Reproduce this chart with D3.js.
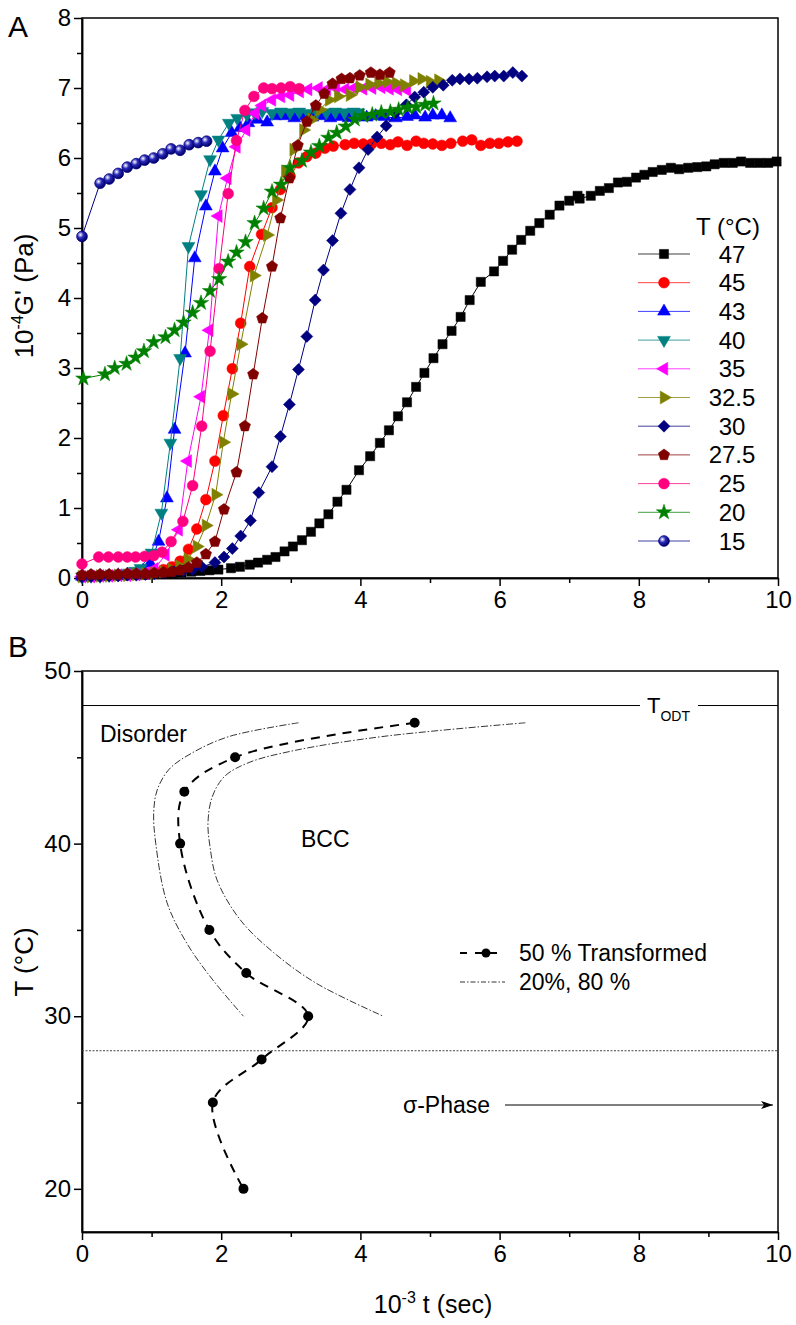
<!DOCTYPE html>
<html>
<head>
<meta charset="utf-8">
<script src="https://cdn.jsdelivr.net/npm/d3@7"></script>
<style>
body { margin: 0; background: #fff; }
svg text { font-family: "Liberation Sans", Arial, sans-serif; fill: #000; }
</style>
</head>
<body>
<svg id="fig" width="796" height="1325"></svg>
<script>
// PANEL A DATA : [10^-3 t (sec), 10^-4 G' (Pa)]
const s47 = [[0,0.02],[0.13,0.02],[0.26,0.03],[0.39,0.03],[0.52,0.04],[0.65,0.04],[0.78,0.05],[0.91,0.05],[1.04,0.06],[1.17,0.07],[1.30,0.07],[1.43,0.08],[1.57,0.09],[1.70,0.10],[1.83,0.11],[1.96,0.12],[2.14,0.14],[2.27,0.16],[2.41,0.19],[2.53,0.22],[2.66,0.26],[2.78,0.30],[2.91,0.38],[3.03,0.45],[3.16,0.54],[3.29,0.66],[3.41,0.78],[3.54,0.91],[3.67,1.09],[3.80,1.26],[3.98,1.54],[4.14,1.74],[4.28,1.93],[4.41,2.11],[4.54,2.31],[4.67,2.51],[4.80,2.73],[4.92,2.93],[5.05,3.14],[5.18,3.34],[5.31,3.53],[5.44,3.73],[5.57,3.97],[5.73,4.23],[5.92,4.38],[6.05,4.53],[6.18,4.69],[6.31,4.83],[6.44,4.96],[6.57,5.07],[6.72,5.19],[6.86,5.32],[7.00,5.39],[7.12,5.46],[7.15,5.42],[7.31,5.46],[7.44,5.53],[7.57,5.57],[7.70,5.65],[7.83,5.66],[7.96,5.72],[8.08,5.76],[8.20,5.80],[8.33,5.83],[8.46,5.86],[8.58,5.84],[8.71,5.86],[8.84,5.87],[8.97,5.88],[9.09,5.91],[9.22,5.93],[9.35,5.93],[9.47,5.95],[9.60,5.93],[9.73,5.93],[9.86,5.93],[9.98,5.95]];
const s45 = [[0,0.02],[0.13,0.03],[0.26,0.03],[0.39,0.04],[0.52,0.04],[0.65,0.05],[0.78,0.06],[0.91,0.07],[1.04,0.09],[1.17,0.12],[1.29,0.16],[1.41,0.24],[1.53,0.41],[1.65,0.70],[1.78,1.12],[1.91,1.67],[2.03,2.32],[2.16,2.99],[2.28,3.64],[2.41,4.45],[2.58,4.91],[2.73,5.29],[2.85,5.55],[2.99,5.74],[3.11,5.93],[3.23,6.02],[3.36,6.07],[3.49,6.14],[3.61,6.17],[3.78,6.19],[3.91,6.21],[4.04,6.20],[4.16,6.20],[4.30,6.21],[4.43,6.19],[4.54,6.23],[4.67,6.18],[4.80,6.24],[4.91,6.21],[5.04,6.20],[5.17,6.18],[5.30,6.21],[5.47,6.24],[5.60,6.26],[5.73,6.18],[5.86,6.21],[5.99,6.21],[6.12,6.23],[6.25,6.24]];
const s43 = [[0,0.02],[0.13,0.02],[0.26,0.03],[0.39,0.03],[0.52,0.04],[0.65,0.05],[0.78,0.07],[0.88,0.11],[0.98,0.21],[1.10,0.52],[1.22,1.14],[1.33,2.12],[1.48,3.21],[1.62,4.57],[1.78,5.31],[1.91,5.81],[2.02,6.14],[2.15,6.36],[2.27,6.43],[2.39,6.50],[2.52,6.55],[2.66,6.51],[2.78,6.60],[2.92,6.60],[3.05,6.57],[3.18,6.60],[3.31,6.58],[3.44,6.60],[3.57,6.57],[3.70,6.59],[3.83,6.57],[3.96,6.59],[4.09,6.58],[4.22,6.60],[4.35,6.59],[4.51,6.57],[4.67,6.59],[4.78,6.61],[4.93,6.58],[5.04,6.61],[5.17,6.61],[5.29,6.57]];
const s40 = [[0,0.02],[0.13,0.03],[0.26,0.03],[0.39,0.04],[0.52,0.05],[0.65,0.07],[0.76,0.10],[0.84,0.14],[1.00,0.36],[1.14,0.93],[1.27,1.93],[1.41,3.14],[1.53,4.74],[1.71,5.48],[1.84,5.98],[1.96,6.26],[2.11,6.50],[2.23,6.57],[2.37,6.62],[2.48,6.65],[2.59,6.67],[2.73,6.64],[2.86,6.66],[2.99,6.65],[3.12,6.66],[3.25,6.64],[3.38,6.66],[3.51,6.65],[3.64,6.66],[3.77,6.65],[3.90,6.66],[3.97,6.65]];
const s35 = [[0,0.02],[0.13,0.02],[0.26,0.03],[0.39,0.03],[0.52,0.04],[0.65,0.04],[0.78,0.05],[0.91,0.07],[1.04,0.13],[1.20,0.33],[1.39,0.69],[1.52,1.67],[1.71,2.59],[1.83,3.54],[1.96,5.17],[2.09,5.71],[2.22,6.16],[2.36,6.40],[2.49,6.64],[2.59,6.75],[2.73,6.83],[2.86,6.88],[2.99,6.90],[3.13,6.95],[3.25,6.98],[3.40,7.00],[3.52,6.98],[3.65,7.00],[3.78,6.98],[3.91,7.00],[4.04,6.99],[4.17,7.00],[4.30,7.01],[4.42,6.99],[4.54,6.98],[4.67,6.97]];
const s325 = [[0,0.02],[0.13,0.02],[0.26,0.03],[0.39,0.03],[0.52,0.04],[0.65,0.04],[0.78,0.05],[0.91,0.06],[1.04,0.07],[1.17,0.09],[1.29,0.12],[1.40,0.17],[1.52,0.27],[1.65,0.45],[1.78,0.75],[1.92,1.19],[2.03,1.94],[2.15,2.63],[2.28,3.34],[2.47,4.32],[2.66,4.90],[2.79,5.40],[2.92,5.81],[3.04,6.12],[3.18,6.40],[3.30,6.55],[3.42,6.69],[3.55,6.83],[3.68,6.88],[3.85,6.90],[3.99,7.01],[4.13,7.05],[4.26,7.07],[4.38,7.09],[4.51,7.07],[4.63,7.04],[4.76,7.10],[4.88,7.13],[5.00,7.09],[5.12,7.11]];
const s30 = [[0,0.01],[0.13,0.02],[0.26,0.02],[0.39,0.03],[0.52,0.03],[0.65,0.04],[0.78,0.04],[0.91,0.05],[1.04,0.06],[1.17,0.07],[1.32,0.09],[1.45,0.10],[1.59,0.12],[1.72,0.16],[1.91,0.22],[2.04,0.30],[2.16,0.42],[2.28,0.60],[2.42,0.82],[2.54,1.22],[2.73,1.59],[2.85,2.02],[2.98,2.48],[3.11,2.98],[3.23,3.45],[3.35,3.97],[3.47,4.40],[3.60,4.82],[3.72,5.21],[3.85,5.55],[3.98,5.86],[4.11,6.12],[4.24,6.30],[4.37,6.46],[4.50,6.64],[4.66,6.76],[4.78,6.87],[4.91,6.94],[5.04,7.01],[5.19,7.04],[5.32,7.11],[5.43,7.13],[5.56,7.13],[5.68,7.14],[5.82,7.16],[5.93,7.17],[6.06,7.17],[6.19,7.22],[6.32,7.17]];
const s275 = [[0,0.04],[0.13,0.05],[0.26,0.05],[0.39,0.05],[0.52,0.05],[0.65,0.06],[0.78,0.06],[0.91,0.06],[1.04,0.07],[1.17,0.08],[1.29,0.09],[1.41,0.11],[1.53,0.15],[1.65,0.22],[1.78,0.34],[1.91,0.52],[2.04,0.98],[2.22,1.51],[2.34,2.17],[2.46,2.91],[2.59,3.71],[2.73,4.45],[2.85,5.14],[2.98,5.71],[3.10,6.18],[3.23,6.52],[3.36,6.75],[3.48,6.92],[3.60,7.06],[3.73,7.13],[3.85,7.14],[3.99,7.18],[4.15,7.22],[4.28,7.19],[4.42,7.22]];
const s25 = [[0,0.20],[0.24,0.30],[0.38,0.30],[0.52,0.30],[0.65,0.30],[0.77,0.30],[0.90,0.31],[1.03,0.32],[1.15,0.37],[1.28,0.52],[1.45,0.81],[1.59,1.32],[1.72,2.17],[1.84,3.24],[1.97,4.42],[2.10,5.49],[2.22,6.25],[2.34,6.68],[2.47,6.88],[2.61,7.00],[2.73,6.99],[2.86,7.00],[2.99,7.02],[3.12,6.99]];
const s20 = [[0.02,2.85],[0.33,2.91],[0.47,3.00],[0.64,3.06],[0.77,3.15],[0.89,3.24],[1.03,3.37],[1.20,3.44],[1.33,3.54],[1.46,3.65],[1.59,3.79],[1.71,3.93],[1.84,4.10],[1.97,4.27],[2.10,4.52],[2.22,4.65],[2.35,4.80],[2.48,5.07],[2.61,5.28],[2.73,5.52],[2.86,5.62],[2.99,5.86],[3.16,5.96],[3.29,6.08],[3.41,6.17],[3.54,6.29],[3.66,6.36],[3.79,6.45],[3.92,6.55],[4.04,6.60],[4.17,6.62],[4.30,6.65],[4.43,6.66],[4.55,6.69],[4.68,6.72],[4.80,6.73],[4.93,6.76],[5.05,6.78]];
const s15 = [[0,4.88],[0.26,5.64],[0.39,5.70],[0.52,5.78],[0.65,5.87],[0.78,5.92],[0.90,5.97],[1.03,6.00],[1.16,6.06],[1.28,6.13],[1.41,6.11],[1.54,6.19],[1.67,6.22],[1.79,6.24]];

const tempLabels = ['47','45','43','40','35','32.5','30','27.5','25','20','15'];
const seriesA = [s47, s45, s43, s40, s35, s325, s30, s275, s25, s20, s15];
const colorsA = ['#000000','#ff0000','#0000ff','#008080','#ff00ff','#808000','#000080','#800000','#ff0080','#008000','#000080'];
const markersA = ['square','circle','up','down','left','right','diamond','pentagon','circle','star','sphere'];

const xTicks = [0, 2, 4, 6, 8, 10];
const xMinor = [1, 3, 5, 7, 9];
const yTicksA = [0, 1, 2, 3, 4, 5, 6, 7, 8];
const yMinorA = [0.5, 1.5, 2.5, 3.5, 4.5, 5.5, 6.5, 7.5];

// PANEL B DATA : [10^-3 t (sec), T (C)]
const half = [[4.78,47],[2.20,45],[1.47,43],[1.41,40],[1.83,35],[2.36,32.5],[3.25,30],[2.58,27.5],[1.88,25],[2.32,20]];
const curve20 = [[3.11,47],[2.11,46.2],[1.58,45.25],[1.25,44.3],[1.08,43.1],[1.03,41.8],[1.06,40.0],[1.22,36.6],[1.51,34.2],[1.88,32.1],[2.32,30.0]];
const curve80 = [[6.37,47],[4.31,46.2],[3.06,45.4],[2.40,44.7],[2.05,43.9],[1.87,42.7],[1.81,41.2],[1.84,39.8],[1.94,37.9],[2.27,35.6],[2.75,33.7],[3.37,31.9],[4.33,30.0]];
const tODT = 48;
const tSigma = 28;
const yTicksB = [20, 30, 40, 50];
const yMinorB = [25, 35, 45];

const svg = d3.select('#fig');

const xA = d3.scaleLinear().domain([0, 10]).range([82, 778]);
const yA = d3.scaleLinear().domain([0, 8]).range([578, 18]);
const xB = d3.scaleLinear().domain([0, 10]).range([82, 778]);
const yB = d3.scaleLinear().domain([17.5, 50]).range([1232, 671]);

//AXES + FRAME
const drawFrame = (x, y, yMajor, yMinor, fontSize) => {
    const g = svg.append('g');
    const bottom = y.range()[0];
    g.append('g').attr('transform', `translate(0,${bottom})`)
        .call(d3.axisBottom(x).tickValues(xTicks).tickSize(8).tickSizeOuter(0).tickPadding(5).tickFormat(d3.format('d')));
    g.append('g').attr('transform', `translate(0,${bottom})`)
        .call(d3.axisBottom(x).tickValues(xMinor).tickSize(5).tickSizeOuter(0).tickFormat(''));
    g.append('g').attr('transform', `translate(${x.range()[0]},0)`)
        .call(d3.axisLeft(y).tickValues(yMajor).tickSize(8).tickSizeOuter(0).tickPadding(3).tickFormat(d3.format('d')));
    g.append('g').attr('transform', `translate(${x.range()[0]},0)`)
        .call(d3.axisLeft(y).tickValues(yMinor).tickSize(5).tickSizeOuter(0).tickFormat(''));
    g.selectAll('.tick line').attr('stroke', '#000').attr('stroke-width', 1.5);
    g.selectAll('.domain').attr('stroke', '#000').attr('stroke-width', 1.5);
    g.selectAll('.tick text').style('font-size', fontSize + 'px').style('font-family', '"Liberation Sans", Arial, sans-serif');
    g.append('rect')
        .attr('x', x.range()[0]).attr('y', y.range()[1])
        .attr('width', x.range()[1] - x.range()[0]).attr('height', y.range()[0] - y.range()[1])
        .attr('fill', 'none').attr('stroke', '#000').attr('stroke-width', 1.5);
};

//MARKERS
const pentagon = {
    draw(ctx, size) {
        const r = Math.sqrt(size / 2.378);
        for (let i = 0; i < 5; i++) {
            const a = -Math.PI / 2 + i * 2 * Math.PI / 5;
            if (i === 0) ctx.moveTo(r * Math.cos(a), r * Math.sin(a));
            else ctx.lineTo(r * Math.cos(a), r * Math.sin(a));
        }
        ctx.closePath();
    }
};

const defs = svg.append('defs');
const grad = defs.append('radialGradient').attr('id', 'ball').attr('cx', '35%').attr('cy', '35%').attr('r', '65%');
grad.append('stop').attr('offset', '0%').attr('stop-color', '#ffffff');
grad.append('stop').attr('offset', '45%').attr('stop-color', '#2a2ab8');
grad.append('stop').attr('offset', '100%').attr('stop-color', '#00006a');

const markerPath = (kind) => {
    switch (kind) {
        case 'square': return { d: d3.symbol(d3.symbolSquare, 84)(), rot: 0 };
        case 'circle': return { d: d3.symbol(d3.symbolCircle, 92)(), rot: 0 };
        case 'sphere': return { d: d3.symbol(d3.symbolCircle, 90)(), rot: 0 };
        case 'up': return { d: d3.symbol(d3.symbolTriangle, 72)(), rot: 0 };
        case 'down': return { d: d3.symbol(d3.symbolTriangle, 72)(), rot: 180 };
        case 'left': return { d: d3.symbol(d3.symbolTriangle, 72)(), rot: -90 };
        case 'right': return { d: d3.symbol(d3.symbolTriangle, 72)(), rot: 90 };
        case 'diamond': return { d: d3.symbol(d3.symbolSquare, 72)(), rot: 45 };
        case 'pentagon': return { d: d3.symbol(pentagon, 84)(), rot: 0 };
        case 'star': return { d: d3.symbol(d3.symbolStar, 74)(), rot: 0 };
    }
};

const drawMarker = (g, kind, color, px, py) => {
    const m = markerPath(kind);
    g.append('path')
        .attr('d', m.d)
        .attr('transform', `translate(${px},${py}) rotate(${m.rot})`)
        .attr('fill', kind === 'sphere' ? 'url(#ball)' : color)
        .attr('stroke', color)
        .attr('stroke-width', kind === 'sphere' ? 0.8 : 0.5);
};

// PANEL A
drawFrame(xA, yA, yTicksA, yMinorA, 24);

const lineA = d3.line().x(d => xA(d[0])).y(d => yA(d[1]));
const plotA = svg.append('g');
seriesA.forEach((s, i) => {
    const g = plotA.append('g');
    g.append('path').attr('d', lineA(s)).attr('fill', 'none').attr('stroke', colorsA[i]).attr('stroke-width', 1);
    s.forEach(d => drawMarker(g, markersA[i], colorsA[i], xA(d[0]), yA(d[1])));
});

//LEGEND A
const legA = svg.append('g');
legA.append('text').attr('x', 728).attr('y', 235).attr('text-anchor', 'middle').style('font-size', '24px').text('T (\u00b0C)');
tempLabels.forEach((t, i) => {
    const ly = 254 + i * 28.7;
    legA.append('line').attr('x1', 638).attr('x2', 690).attr('y1', ly).attr('y2', ly)
        .attr('stroke', colorsA[i]).attr('stroke-width', 1).attr('stroke-opacity', 0.75);
    drawMarker(legA, markersA[i], colorsA[i], 664, ly);
    legA.append('text').attr('x', 732).attr('y', ly + 8.5).attr('text-anchor', 'middle').style('font-size', '24px').text(t);
});

svg.append('text').attr('x', 8).attr('y', 37).style('font-size', '30px').text('A');
const ylabA = svg.append('text').attr('transform', 'translate(33,296) rotate(-90)').attr('text-anchor', 'middle').style('font-size', '26px');
ylabA.append('tspan').text('10');
ylabA.append('tspan').attr('dy', -10).style('font-size', '16px').text('-4');
ylabA.append('tspan').attr('dy', 10).text("G' (Pa)");

// PANEL B
drawFrame(xB, yB, yTicksB, yMinorB, 24);

svg.append('text').attr('x', 8).attr('y', 657).style('font-size', '30px').text('B');

const plotB = svg.append('g');
// T_ODT line with label
plotB.append('line').attr('x1', xB(0)).attr('x2', xB(10)).attr('y1', yB(tODT)).attr('y2', yB(tODT))
    .attr('stroke', '#000').attr('stroke-width', 1);
plotB.append('rect').attr('x', 640).attr('y', yB(tODT) - 4).attr('width', 58).attr('height', 8).attr('fill', '#fff');
const todt = plotB.append('text').attr('x', 647).attr('y', 713).style('font-size', '22px');
todt.append('tspan').text('T');
todt.append('tspan').attr('dy', 8).style('font-size', '14px').text('ODT');

// sigma boundary
plotB.append('line').attr('x1', xB(0)).attr('x2', xB(10)).attr('y1', yB(tSigma)).attr('y2', yB(tSigma))
    .attr('stroke', '#444').attr('stroke-width', 1).attr('stroke-dasharray', '2,1.5');

const lineB = d3.line().x(d => xB(d[0])).y(d => yB(d[1])).curve(d3.curveCatmullRom.alpha(0.5));
[curve20, curve80].forEach(c => {
    plotB.append('path').attr('d', lineB(c)).attr('fill', 'none').attr('stroke', '#000')
        .attr('stroke-width', 0.8).attr('stroke-dasharray', '7,2,1.5,2');
});
plotB.append('path').attr('d', lineB(half)).attr('fill', 'none').attr('stroke', '#000')
    .attr('stroke-width', 2).attr('stroke-dasharray', '9,7');
plotB.selectAll('circle.pt').data(half).join('circle').attr('class', 'pt')
    .attr('cx', d => xB(d[0])).attr('cy', d => yB(d[1])).attr('r', 5).attr('fill', '#000');

// region labels
plotB.append('text').attr('x', 100).attr('y', 742).style('font-size', '23px').text('Disorder');
plotB.append('text').attr('x', 301).attr('y', 847).style('font-size', '23px').text('BCC');
plotB.append('text').attr('x', 403).attr('y', 1113).style('font-size', '23px').text('\u03c3-Phase');
defs.append('marker').attr('id', 'arr').attr('viewBox', '0 0 12 8').attr('refX', 12).attr('refY', 4)
    .attr('markerWidth', 12).attr('markerHeight', 8).attr('markerUnits', 'userSpaceOnUse').attr('orient', 'auto')
    .append('path').attr('d', 'M0,0 L12,4 L0,8 L3,4 Z').attr('fill', '#000');
plotB.append('line').attr('x1', 505).attr('x2', 773).attr('y1', 1105).attr('y2', 1105)
    .attr('stroke', '#000').attr('stroke-width', 1).attr('marker-end', 'url(#arr)');

//LEGEND B
const legB = svg.append('g');
legB.append('line').attr('x1', 460).attr('x2', 504).attr('y1', 953).attr('y2', 953)
    .attr('stroke', '#000').attr('stroke-width', 2).attr('stroke-dasharray', '7,8');
legB.append('circle').attr('cx', 486).attr('cy', 953).attr('r', 4.5).attr('fill', '#000');
legB.append('text').attr('x', 519).attr('y', 961).style('font-size', '23px').text('50 % Transformed');
legB.append('line').attr('x1', 460).attr('x2', 505).attr('y1', 982).attr('y2', 982)
    .attr('stroke', '#000').attr('stroke-width', 0.8).attr('stroke-dasharray', '5,2,1.5,2');
legB.append('text').attr('x', 519).attr('y', 990).style('font-size', '23px').text('20%, 80 %');

svg.append('text').attr('transform', 'translate(33,962) rotate(-90)').attr('text-anchor', 'middle').style('font-size', '26px').text('T (\u00b0C)');

const xlab = svg.append('text').attr('x', 433).attr('y', 1313).attr('text-anchor', 'middle').style('font-size', '25px');
xlab.append('tspan').text('10');
xlab.append('tspan').attr('dy', -10).style('font-size', '16px').text('-3');
xlab.append('tspan').attr('dy', 10).text(' t (sec)');
</script>
</body>
</html>
